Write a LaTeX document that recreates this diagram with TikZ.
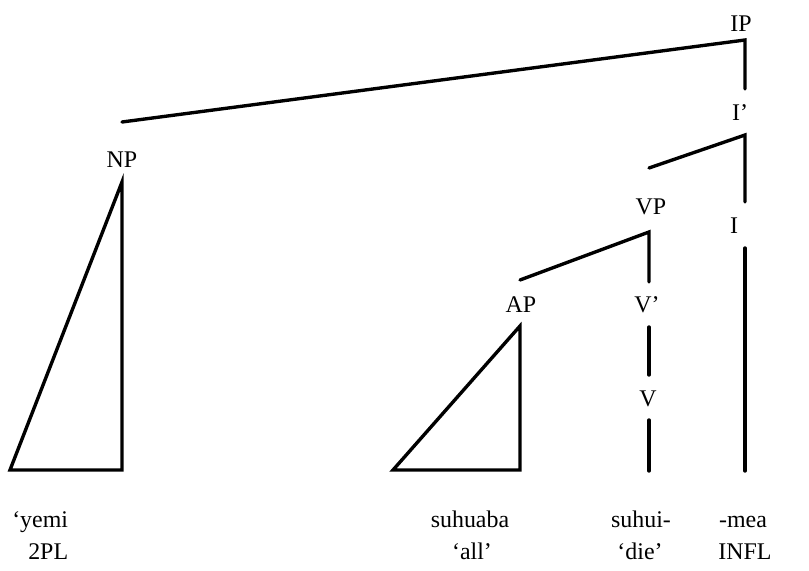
\documentclass[tikz,border=0pt]{standalone}
\usepackage{fontspec}
\setmainfont{Liberation Serif}
\usetikzlibrary{positioning}
\tikzset{
    cat/.style={font=\fontsize{17}{20}\selectfont, inner sep=0pt},
    word/.style={font=\fontsize{17}{20}\selectfont, inner sep=0pt, anchor=base},
    branch/.style={line width=2.4pt, line cap=round, line join=miter}
}

\begin{document}
\begin{tikzpicture}[x=0.025cm, y=-0.025cm]
    \useasboundingbox (0,0) rectangle (809,571);

    % Category labels
    \node (IP) [cat] at (741,24) {IP};
    \node (Ibar) [cat] at (740,113) {I’};
    \node (I) [cat] at (734,226) {I};
    \node (NP) [cat] at (122,160) {NP};
    \node (VP) [cat] at (651,207) {VP};
    \node (AP) [cat] at (521,305) {AP};
    \node (Vbar) [cat] at (647,305) {V’};
    \node (V) [cat] at (648,399) {V};

    % Branch points
    \coordinate (IP_c) at (745,40);
    \coordinate (IP_d) at (745,89);
    \coordinate (NP_up) at (122,122);
    \coordinate (Ibar_c) at (745,135);
    \coordinate (Ibar_d) at (745,202);
    \coordinate (VP_up) at (649,168);
    \coordinate (I_top) at (745,248);
    \coordinate (I_bot) at (745,471);
    \coordinate (VP_c) at (649,232);
    \coordinate (VP_d) at (649,282);
    \coordinate (AP_up) at (520,280);
    \coordinate (Vbar_top) at (649,327);
    \coordinate (Vbar_bot) at (649,375);
    \coordinate (V_top) at (649,420);
    \coordinate (V_bot) at (649,471);

    % Triangles
    \coordinate (NP_apex) at (122,182);
    \coordinate (NP_left) at (10,470);
    \coordinate (NP_right) at (122,470);
    \coordinate (AP_apex) at (520,326);
    \coordinate (AP_left) at (393,470);
    \coordinate (AP_right) at (520,470);

    % Words and glosses
    \node (w_yemi) [word, anchor=base west] at (12,527) {‘yemi};
    \node (g_yemi) [word, anchor=base west] at (28,559) {2PL};
    \node (w_suhuaba) [word] at (470,527) {suhuaba};
    \node (g_suhuaba) [word] at (472,559) {‘all’};
    \node (w_suhui) [word] at (641,527) {suhui-};
    \node (g_suhui) [word] at (640,559) {‘die’};
    \node (w_mea) [word] at (743,527) {-mea};
    \node (g_mea) [word] at (745,559) {INFL};

    % Branches
    \draw [branch] (NP_up) -- (IP_c) -- (IP_d);
    \draw [branch] (VP_up) -- (Ibar_c) -- (Ibar_d);
    \draw [branch] (I_top) -- (I_bot);
    \draw [branch] (AP_up) -- (VP_c) -- (VP_d);
    \draw [branch] (Vbar_top) -- (Vbar_bot);
    \draw [branch] (V_top) -- (V_bot);
    \draw [branch] (NP_apex) -- (NP_left) -- (NP_right) -- cycle;
    \draw [branch] (AP_apex) -- (AP_left) -- (AP_right) -- cycle;

\end{tikzpicture}
\end{document}
